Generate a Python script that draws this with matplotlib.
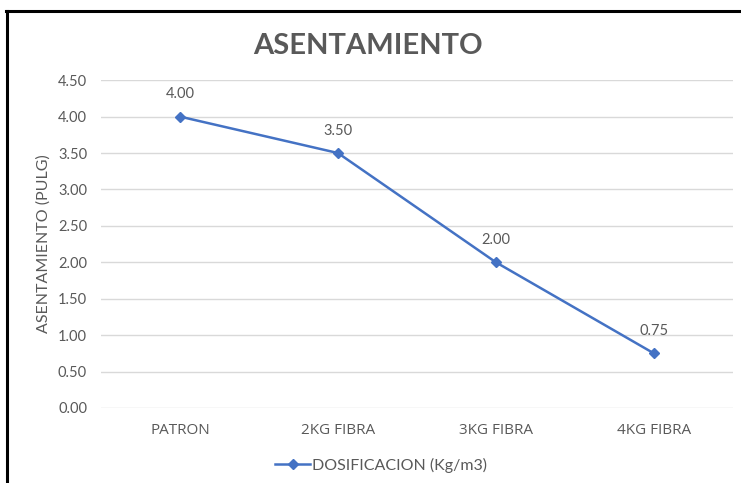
import matplotlib.pyplot as plt
from matplotlib.lines import Line2D

categorias = ['PATRON', '2KG FIBRA', '3KG FIBRA', '4KG FIBRA']
asentamiento = [4.00, 3.50, 2.00, 0.75]
yticks = [0.0, 0.5, 1.0, 1.5, 2.0, 2.5, 3.0, 3.5, 4.0, 4.5]

plt.rcParams['font.family'] = ['Lato', 'DejaVu Sans']
gris = '#595959'
azul = '#4472C4'

fig = plt.figure(figsize=(7.41, 4.83), dpi=100)
ax = fig.add_axes([0.1363, 0.1553, 0.8527, 0.6787])

x = range(len(categorias))
ax.plot(x, asentamiento, color=azul, lw=1.8, marker='D', ms=5.5)

# etiquetas de datos
for xi, v in zip(x, asentamiento):
    ax.annotate(f'{v:.2f}', (xi, v), xytext=(0, 11), textcoords='offset points',
                ha='center', va='bottom', fontsize=10.5, color=gris)

ax.set_xlim(-0.5, len(categorias) - 0.5)
ax.set_ylim(0, 4.5)
ax.set_yticks(yticks)
ax.set_yticklabels([f'{t:.2f}' for t in yticks], fontsize=10.5, color=gris)
ax.set_xticks(list(x))
ax.set_xticklabels(categorias, fontsize=11, color=gris, family='Open Sans')
ax.tick_params(length=0, pad=10)
ax.tick_params(axis='x', pad=11)
ax.grid(axis='y', color='#d9d9d9', lw=1)
ax.set_axisbelow(True)
for s in ax.spines.values():
    s.set_visible(False)

ax.set_ylabel('ASENTAMIENTO (PULG)', fontsize=11.5, color=gris, labelpad=5)

fig.text(0.4966, 0.905, 'ASENTAMIENTO', ha='center', va='center',
         fontsize=21, fontweight='bold', color=gris)

h = Line2D([], [], color=azul, lw=1.8, marker='D', ms=5.5)
fig.legend([h], ['DOSIFICACION (Kg/m3)'], loc='center', bbox_to_anchor=(0.514, 0.037),
           frameon=False, fontsize=11.5, labelcolor=gris, handlelength=2.2,
           handletextpad=0.1)

# marco (recortado a la derecha y abajo)
fig.add_artist(Line2D([0.008, 1.0], [0.977, 0.977], color='black', lw=2.2,
                      transform=fig.transFigure))
fig.add_artist(Line2D([0.009, 0.009], [0.0, 0.978], color='black', lw=2.2,
                      transform=fig.transFigure))

fig.savefig('out.png', dpi=100)
